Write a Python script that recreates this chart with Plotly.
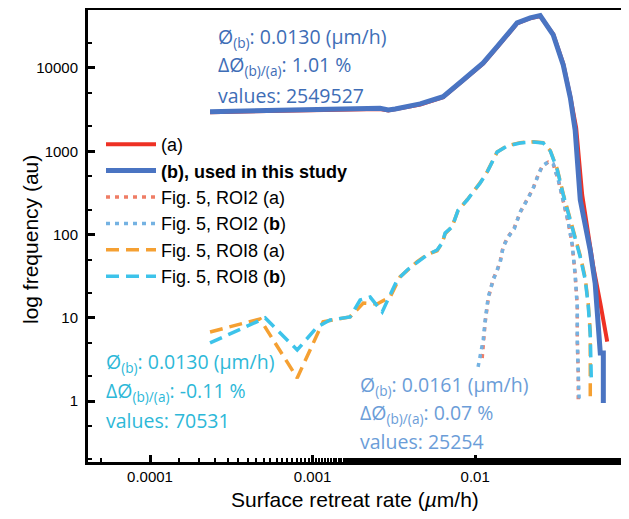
import plotly.graph_objects as go

# ---- data ----
x_a = [2.34e-4, 4.75e-4, 8.4e-4, 1.48e-3, 2.6e-3, 2.92e-3, 3.22e-3, 4.59e-3, 6.35e-3, 8.43e-3, 0.0112, 0.01365,
       0.0181, 0.0218, 0.0251, 0.0302, 0.0348, 0.0385, 0.0418, 0.0455, 0.0534, 0.0588, 0.0620, 0.0649, 0.0649]
y_a = [2950, 3020, 3120, 3180, 3210, 3080, 3180, 3650, 4450, 7050, 11300, 17700,
       34200, 39600, 41900, 25500, 11200, 4500, 1900, 300, 40, 15, 8.5, 6, 5.2]

x_b = [2.34e-4, 4.75e-4, 8.4e-4, 1.48e-3, 2.6e-3, 2.92e-3, 3.22e-3, 4.59e-3, 6.35e-3, 8.43e-3, 0.0112, 0.01365,
       0.0181, 0.0218, 0.0251, 0.0302, 0.0348, 0.0385, 0.0412, 0.0443, 0.0510, 0.0547, 0.0571, 0.0588, 0.0614, 0.0614]
y_b = [2990, 3090, 3190, 3240, 3280, 3130, 3220, 3700, 4520, 7180, 11480, 18000,
       34700, 40000, 42460, 24900, 10860, 4365, 1800, 260, 65, 26, 7.8, 3.8, 3.8, 0.95]

roi2_a_x = [0.01104, 0.01120, 0.01153, 0.01203, 0.01291, 0.01365, 0.01426, 0.01487, 0.01596, 0.01738, 0.01892,
            0.02089, 0.02275, 0.02443, 0.02585, 0.02813, 0.0302, 0.03243, 0.03483, 0.03736, 0.03954, 0.04121,
            0.04246, 0.04246, 0.04305, 0.04305]
roi2_a_y = [3.3, 5.1, 9.0, 17.0, 29.5, 37.0, 48.0, 72, 95, 120, 185, 265, 360, 525, 660, 740, 700, 455, 262,
            140, 76, 33, 13.8, 5.5, 2.2, 1.0]

roi2_b_x = [0.01042, 0.01120, 0.01153, 0.01203, 0.01291, 0.01365, 0.01426, 0.01487, 0.01596, 0.01738, 0.01892,
            0.02089, 0.02275, 0.02443, 0.02585, 0.02813, 0.0302, 0.03243, 0.03483, 0.03736, 0.03954, 0.04121,
            0.04246, 0.04246, 0.04305, 0.04365]
roi2_b_y = [2.58, 5.43, 9.44, 17.8, 28.5, 37.6, 46.9, 71, 93.5, 117, 187, 260, 362, 519, 667, 745, 705, 452,
            260, 142, 75, 32.7, 13.5, 5.43, 2.18, 0.98]

roi8_a_x = [2.34e-4, 4.75e-4, 8.04e-4, 1.16e-3, 1.70e-3, 2.05e-3, 2.49e-3, 3.0e-3, 3.45e-3, 3.82e-3, 4.40e-3,
            5.07e-3, 5.83e-3, 6.27e-3, 6.53e-3, 7.21e-3, 7.85e-3, 8.93e-3, 9.72e-3, 0.01074, 0.01186, 0.01274,
            0.01365, 0.01574, 0.01892, 0.02275, 0.0262, 0.02897, 0.03199, 0.03483, 0.03736, 0.0401, 0.04426,
            0.04753, 0.04955, 0.05103, 0.05103]
roi8_a_y = [6.78, 9.70, 1.90, 9.0, 10.25, 15.1, 14.7, 17.8, 31.0, 37.0, 47.5, 57.5, 64, 80, 102, 125, 195, 262,
            320, 420, 570, 750, 980, 1170, 1270, 1300, 1265, 1020, 610, 305, 185, 108, 56, 30, 15, 6.8, 1.03]

roi8_b_x = [2.34e-4, 5.11e-4, 8.04e-4, 1.067e-3, 1.28e-3, 1.70e-3, 1.96e-3, 2.26e-3, 2.68e-3, 3.31e-3, 3.82e-3,
            4.40e-3, 5.07e-3, 5.83e-3, 6.27e-3, 6.53e-3, 7.21e-3, 7.85e-3, 8.93e-3, 9.72e-3, 0.01074, 0.01186,
            0.01274, 0.01365, 0.01574, 0.01892, 0.02275, 0.0262, 0.02897, 0.03199, 0.03483, 0.03736, 0.0401,
            0.04426, 0.04753, 0.04955, 0.05103, 0.05177]
roi8_b_y = [5.0, 9.98, 4.12, 7.78, 9.44, 10.25, 16.4, 17.8, 11.8, 28.5, 37.6, 46.9, 56.9, 65.3, 79.3, 104.5, 123,
            197, 260, 324, 416, 565, 745, 982, 1159, 1259, 1294, 1259, 1009, 597, 298, 182, 104.5, 53.8, 28.5,
            14.3, 6.24, 1.9]

x_tickvals = [1e-4, 1e-3, 1e-2]
x_ticktext = ["0.0001", "0.001", "0.01"]
y_tickvals = [1, 10, 100, 1000, 10000]
y_ticktext = ["1", "10", "100", "1000", "10000"]

legend_names = ["(a)", "<b>(b), used in this study</b>", "Fig. 5, ROI2 (a)", "Fig. 5, ROI2 (<b>b</b>)",
                "Fig. 5, ROI8 (a)", "Fig. 5, ROI8 (<b>b</b>)"]

ann_top = ["Ø<sub>(b)</sub>: 0.0130 (µm/h)", "ΔØ<sub>(b)/(a)</sub>: 1.01 %", "values: 2549527"]
ann_roi8 = ["Ø<sub>(b)</sub>: 0.0130 (µm/h)", "ΔØ<sub>(b)/(a)</sub>: -0.11 %", "values: 70531"]
ann_roi2 = ["Ø<sub>(b)</sub>: 0.0161 (µm/h)", "ΔØ<sub>(b)/(a)</sub>: 0.07 %", "values: 25254"]

# ---- figure (page has an 8px body margin, so the figure is offset by OFF) ----
OFF = 8
W, H = 629 - OFF, 519 - OFF
ml, mr, mt, mb = 88 - OFF, 7, 2, 57
pw, ph = W - ml - mr, H - mt - mb

fig = go.Figure()
fig.add_trace(go.Scatter(x=x_a, y=y_a, mode="lines", name=legend_names[0],
                         line=dict(color="#ee3124", width=4)))
fig.add_trace(go.Scatter(x=x_b, y=y_b, mode="lines", name=legend_names[1],
                         line=dict(color="#4a74c2", width=5)))
fig.add_trace(go.Scatter(x=roi2_a_x, y=roi2_a_y, mode="lines", name=legend_names[2],
                         line=dict(color="#ef7d66", width=3.5, dash="4px,5px")))
fig.add_trace(go.Scatter(x=roi2_b_x, y=roi2_b_y, mode="lines", name=legend_names[3],
                         line=dict(color="#74b2e2", width=3.5, dash="4px,5px")))
fig.add_trace(go.Scatter(x=roi8_a_x, y=roi8_a_y, mode="lines", name=legend_names[4],
                         line=dict(color="#f5a032", width=3.5, dash="13px,7px")))
fig.add_trace(go.Scatter(x=roi8_b_x, y=roi8_b_y, mode="lines", name=legend_names[5],
                         line=dict(color="#3dc3ea", width=3.5, dash="13px,7px")))


def px_x(p):
    # page pixel -> paper fraction
    return (p - OFF - ml) / pw


def px_y(p):
    return (H - mb - (p - OFF)) / ph


annots = []
for texts, left, ys, color in [
    (ann_top, 216, [38, 66, 95], "#3e6db6"),
    (ann_roi8, 104, [362, 391, 420], "#2db8d8"),
    (ann_roi2, 358, [385, 413, 441], "#6b9dd8"),
]:
    for t, yy in zip(texts, ys):
        annots.append(dict(text=t, xref="paper", yref="paper", x=px_x(left), y=px_y(yy),
                           xanchor="left", yanchor="middle", showarrow=False,
                           font=dict(family="Open Sans", size=19.5, color=color)))

annots.append(dict(text="log frequency (au)", xref="paper", yref="paper", x=px_x(30), y=px_y(240),
                   xanchor="center", yanchor="middle", textangle=-90, showarrow=False,
                   font=dict(family="Liberation Sans, Arial", size=21, color="black")))
annots.append(dict(text="Surface retreat rate (<i>µ</i>m/h)", xref="paper", yref="paper",
                   x=px_x(355), y=px_y(499), xanchor="center", yanchor="middle", showarrow=False,
                   font=dict(family="Liberation Sans, Arial", size=21, color="black")))

fig.update_layout(
    width=W, height=H,
    margin=dict(l=ml, r=mr, t=mt, b=mb, autoexpand=False),
    paper_bgcolor="white", plot_bgcolor="white",
    font=dict(family="Liberation Sans, Arial", color="black"),
    showlegend=True,
    legend=dict(x=px_x(101), y=px_y(126), xanchor="left", yanchor="top",
                font=dict(family="Liberation Sans, Arial", size=18, color="black"),
                bgcolor="rgba(0,0,0,0)", itemwidth=50, tracegroupgap=0),
    annotations=annots,
)
fig.update_xaxes(type="log", range=[-4.3815, -1.097], showgrid=False, zeroline=False, automargin=False,
                 showline=True, linecolor="black", linewidth=3, mirror=True,
                 tickvals=x_tickvals, ticktext=x_ticktext, ticks="inside", ticklen=7, tickwidth=2.5,
                 tickcolor="black", tickfont=dict(size=15, family="Liberation Sans, Arial"),
                 ticklabelstandoff=-1,
                 minor=dict(ticks="inside", ticklen=4, tickwidth=1.5, tickcolor="black", showgrid=False))
fig.update_yaxes(type="log", range=[-0.730, 4.696], showgrid=False, zeroline=False, automargin=False,
                 showline=True, linecolor="black", linewidth=3, mirror=False,
                 tickvals=y_tickvals, ticktext=y_ticktext, ticks="inside", ticklen=7, tickwidth=2.5,
                 tickcolor="black", tickfont=dict(size=15, family="Liberation Sans, Arial"),
                 ticklabelstandoff=4,
                 minor=dict(ticks="inside", ticklen=4, tickwidth=1.5, tickcolor="black", showgrid=False))

fig.write_html("out.html")
